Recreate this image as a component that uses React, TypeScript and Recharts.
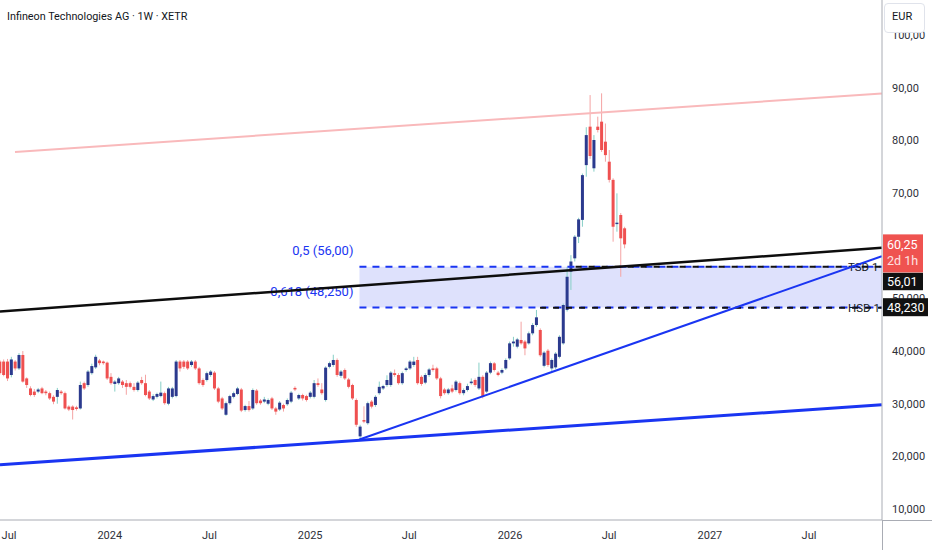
import React from 'react';
import {
  Bar,
  ComposedChart,
  ReferenceArea,
  ReferenceLine,
  XAxis,
  YAxis,
} from 'recharts';

// weekly candles, first bar week and OHLC
const FIRST_WEEK = '2023-06-15';
const WEEK_MS = 7 * 24 * 3600 * 1000;

const OPEN = [
  38.0, 38.0, 38.0, 35.45, 38.0, 36.7, 39.25, 34.8, 32.9, 32.3,
  32.3, 32.9, 32.3, 32.0, 31.3, 31.3, 32.3, 32.0, 29.45, 29.45,
  29.3, 29.1, 33.9, 33.55, 35.8, 36.9, 38.2, 38.0, 37.8, 35.1,
  33.75, 33.9, 34.2, 33.9, 33.9, 33.2, 32.6, 34.5, 33.9, 32.3,
  30.8, 31.3, 31.45, 32.0, 30.0, 31.3, 31.45, 38.0, 38.0, 38.0,
  37.35, 38.0, 36.7, 34.5, 34.5, 35.45, 35.9, 32.9, 31.0, 27.9,
  30.1, 31.3, 31.85, 32.7, 28.8, 29.55, 29.1, 32.5, 30.6, 30.4,
  30.0, 31.0, 29.1, 28.9, 29.75, 29.9, 30.4, 33.0, 31.0, 31.65,
  31.45, 31.3, 31.3, 33.9, 32.7, 30.7, 37.0, 37.35, 38.3, 35.3,
  36.4, 34.6, 33.55, 30.7, 23.8, 26.9, 26.3, 30.4, 29.75, 32.0,
  32.9, 33.55, 33.55, 35.8, 35.45, 33.9, 36.4, 36.7, 37.35, 38.3,
  35.1, 34.0, 35.45, 36.7, 36.7, 34.8, 32.7, 32.0, 32.9, 32.6,
  33.9, 32.0, 32.6, 33.9, 34.5, 32.9, 35.1, 32.3, 35.9, 37.66,
  35.9, 35.9, 36.7, 38.6, 41.46, 40.83, 42.1, 41.8, 41.46, 43.36,
  44.94, 44.0, 37.2, 40.07, 36.7, 36.9, 38.9, 41.46, 47.8, 55.07,
  57.6, 61.7, 64.9, 75.3, 82.6, 74.7, 82.6, 83.55, 79.75, 75.95,
  72.5, 64.1, 65.83, 63.3,
];
const HIGH = [
  38.3, 38.4, 38.5, 38.9, 38.3, 39.6, 40.0, 35.0, 33.3, 32.8,
  33.0, 33.2, 32.6, 32.3, 31.6, 33.0, 32.6, 32.3, 29.7, 29.7,
  29.6, 34.2, 34.2, 36.4, 37.6, 39.3, 38.5, 38.2, 38.0, 35.8,
  34.5, 35.1, 34.5, 34.5, 34.2, 33.9, 34.3, 35.1, 35.5, 32.6,
  31.8, 32.1, 34.2, 32.3, 33.2, 33.2, 38.3, 38.3, 38.3, 38.3,
  38.3, 38.3, 37.0, 34.8, 36.1, 36.4, 36.2, 33.2, 31.3, 30.4,
  31.7, 32.3, 33.2, 33.0, 29.8, 30.5, 32.9, 32.8, 30.9, 31.3,
  31.0, 31.3, 29.4, 30.5, 30.0, 31.0, 32.4, 33.3, 31.9, 31.9,
  31.7, 32.4, 34.5, 34.8, 33.9, 37.1, 38.0, 39.3, 38.6, 36.4,
  36.7, 34.9, 33.8, 31.0, 26.0, 29.5, 30.4, 30.7, 31.6, 34.2,
  33.6, 35.4, 36.2, 36.5, 35.8, 36.1, 37.0, 38.3, 38.9, 38.9,
  35.4, 35.8, 36.8, 37.4, 37.0, 35.1, 33.0, 33.0, 33.6, 34.5,
  34.2, 32.9, 33.8, 34.8, 34.8, 37.8, 35.4, 36.2, 38.0, 37.9,
  36.2, 36.7, 38.6, 41.8, 42.7, 42.5, 45.57, 42.1, 43.7, 45.3,
  47.8, 44.3, 40.0, 40.4, 38.6, 39.8, 43.0, 49.0, 56.0, 58.2,
  62.0, 65.3, 73.7, 82.5, 88.6, 81.0, 84.5, 88.93, 83.2, 78.17,
  72.8, 69.94, 66.2, 63.6,
];
const LOW = [
  35.5, 35.2, 34.3, 35.0, 36.3, 36.4, 34.0, 33.0, 31.4, 31.3,
  32.0, 31.8, 31.6, 30.7, 29.9, 30.0, 31.7, 28.9, 28.6, 27.0,
  28.7, 28.9, 32.6, 33.2, 35.5, 36.6, 37.3, 37.4, 34.5, 33.6,
  32.3, 33.6, 33.0, 31.7, 32.9, 32.3, 32.3, 33.6, 31.4, 30.7,
  30.5, 31.0, 31.2, 29.8, 29.7, 31.0, 31.2, 36.1, 36.6, 36.4,
  37.0, 36.4, 33.6, 33.2, 34.2, 35.1, 32.6, 30.1, 28.8, 27.7,
  29.8, 31.0, 31.6, 28.4, 28.5, 28.5, 28.8, 29.8, 29.8, 30.1,
  29.7, 28.8, 27.9, 28.6, 28.5, 29.6, 30.1, 32.4, 30.7, 30.6,
  30.4, 31.0, 31.0, 33.2, 31.7, 30.4, 36.7, 37.0, 35.1, 34.9,
  34.5, 32.9, 30.7, 25.6, 23.25, 26.3, 26.0, 29.1, 29.4, 31.7,
  32.6, 33.2, 33.2, 35.1, 33.6, 33.6, 36.1, 36.4, 37.0, 33.6,
  33.4, 33.7, 35.1, 36.1, 34.5, 31.0, 31.7, 31.7, 32.0, 32.3,
  31.7, 31.6, 32.3, 33.6, 33.2, 32.6, 31.0, 32.0, 35.6, 36.1,
  35.2, 35.6, 36.4, 38.3, 40.83, 40.5, 41.2, 39.2, 41.2, 43.0,
  44.6, 38.9, 36.9, 37.0, 36.2, 36.6, 38.6, 41.2, 47.5, 51.6,
  57.0, 60.5, 63.6, 73.1, 76.5, 74.06, 81.5, 77.8, 75.95, 72.0,
  60.76, 62.66, 54.1, 59.5,
];
const CLOSE = [
  35.8, 35.45, 34.8, 38.4, 36.7, 39.25, 34.2, 33.55, 31.65, 31.65,
  32.7, 32.0, 32.0, 31.0, 30.4, 32.6, 32.0, 29.1, 28.9, 28.8,
  29.0, 33.55, 32.9, 36.1, 37.15, 38.9, 37.7, 37.7, 34.8, 33.9,
  34.2, 34.8, 33.55, 33.2, 33.2, 32.6, 34.0, 33.9, 31.65, 31.0,
  31.45, 31.85, 32.1, 30.1, 32.9, 32.9, 38.0, 36.7, 37.0, 36.7,
  38.0, 36.7, 33.9, 33.55, 35.8, 36.1, 32.9, 30.4, 29.1, 30.1,
  31.45, 32.0, 32.9, 28.7, 29.55, 28.8, 32.6, 30.1, 30.1, 30.8,
  30.7, 29.1, 28.5, 30.2, 29.1, 30.7, 32.1, 32.7, 31.65, 31.0,
  30.7, 32.1, 33.9, 33.55, 32.0, 36.85, 37.7, 38.3, 35.45, 36.1,
  34.8, 33.2, 31.0, 26.0, 25.65, 26.6, 30.1, 29.45, 31.3, 33.2,
  33.35, 34.5, 35.9, 35.45, 33.9, 35.8, 36.7, 38.0, 38.0, 33.9,
  33.75, 35.45, 36.5, 36.4, 34.8, 31.45, 32.0, 32.7, 32.3, 34.2,
  32.0, 32.6, 33.35, 34.2, 33.55, 35.1, 31.3, 35.9, 37.7, 36.4,
  35.45, 36.4, 38.3, 41.46, 41.8, 42.2, 41.46, 40.5, 43.36, 44.94,
  46.4, 39.2, 39.7, 37.35, 38.3, 39.5, 42.7, 48.74, 54.1, 57.0,
  61.7, 65.0, 73.4, 81.0, 77.03, 80.07, 81.97, 78.17, 77.2, 72.5,
  63.6, 64.37, 61.4, 60.25,
];

const TICK_DATES = [
  '2023-07-01', '2024-01-01', '2024-07-01', '2025-01-01', '2025-07-01',
  '2026-01-01', '2026-07-01', '2027-01-01', '2027-07-01',
];
const TICK_LABELS = ['Jul', '2024', 'Jul', '2025', 'Jul', '2026', 'Jul', '2027', 'Jul'];
// 60 sits fully under the last-price tag in the original, so it is left out
const PRICE_TICKS = [10, 20, 30, 40, 50, 70, 80, 90, 100];
const PRICE_LABELS = [
  '10,000', '20,000', '30,000', '40,000', '50,000',
  '70,00', '80,00', '90,00', '100,00',
];
const X_RANGE = ['2023-06-14T13:00:00Z', '2027-11-11T08:00:00Z'];
const Y_RANGE = [7.92, 106.65];

// drawings on the chart: [date, price] end points
const PINK_LINE = [['2023-07-12', 77.8], ['2027-11-11', 88.9]];
const BLACK_LINE = [['2023-06-14T13:00:00Z', 47.5], ['2027-11-11', 59.6]];
const BLUE_LONG = [['2023-06-14T13:00:00Z', 18.4], ['2027-11-11', 29.8]];
const BLUE_SHORT = [['2025-04-01', 23.2], ['2027-11-11', 58.0]];
const FIB_START = '2025-04-01';
const FIB_LEVELS = [
  { value: 56.0, text: '0,5 (56,00)' },
  { value: 48.25, text: '0,618 (48,250)' },
];
const SD_LINES = [
  { name: 'TSD 1', value: 56.01, from: '2026-04-18' },
  { name: 'HSD 1', value: 48.23, from: '2026-02-12' },
];
const LAST_PRICE = 60.25;

const FONT = 'Roboto, "Noto Sans", sans-serif';
const BLUE = '#1a35f2';
const UP_BODY = '#2b3a8e';
const UP_WICK = '#86cfc6';
const DOWN_BODY = '#ef5050';
const DOWN_WICK = '#f4a3a3';
const AXIS = '#a9acb4';

const ts = (d: string) => Date.parse(d.length === 10 ? d + 'T00:00:00Z' : d);
const t0 = ts(FIRST_WEEK);
const candles = OPEN.map((o, i) => ({
  t: t0 + i * WEEK_MS,
  o,
  h: HIGH[i],
  l: LOW[i],
  c: CLOSE[i],
}));
const seg = (p: (string | number)[][]) =>
  p.map(([d, v]) => ({ x: ts(d as string), y: v as number }));
const xDomain = [ts(X_RANGE[0]), ts(X_RANGE[1])];

const Candle = (props: any) => {
  const { x, y, width, height, payload } = props;
  if (!payload) return null;
  const { o, h, l, c } = payload;
  const top = Math.min(y, y + height);
  const span = Math.abs(height);
  const k = span / (h - l);
  const cx = x + width / 2;
  const up = c >= o;
  const bodyTop = top + (h - Math.max(o, c)) * k;
  const bodyH = Math.max(1, Math.abs(c - o) * k);
  return (
    <g>
      <line x1={cx} x2={cx} y1={top} y2={top + span} stroke={up ? UP_WICK : DOWN_WICK} strokeWidth={1} />
      <rect x={cx - 1.5} y={bodyTop} width={3} height={bodyH} fill={up ? UP_BODY : DOWN_BODY} />
    </g>
  );
};

const FibLabel = ({ viewBox, text }: any) => (
  <text
    x={viewBox.x - 6}
    y={viewBox.y - 16}
    textAnchor="end"
    dominantBaseline="central"
    fill={BLUE}
    fontSize={13}
    fontFamily={FONT}
  >
    {text}
  </text>
);

const SdLabel = ({ viewBox, text }: any) => (
  <text
    x={viewBox.x + viewBox.width - 34}
    y={viewBox.y}
    dominantBaseline="central"
    fill="#131722"
    fontSize={11.5}
    fontFamily={FONT}
  >
    {text}
  </text>
);

const PriceTag = ({ viewBox, lines, bg, top, height, width, textDy = 0 }: any) => {
  const x = viewBox.x + viewBox.width + 1;
  const y = viewBox.y;
  return (
    <g>
      <rect x={x} y={y + top} width={width} height={height} fill={bg} />
      {lines.map((t: string, i: number) => (
        <text
          key={i}
          x={x + 4}
          y={y + textDy + i * 16}
          dominantBaseline="central"
          fill={i === 0 ? '#ffffff' : '#fde2e2'}
          fontSize={12.5}
          fontFamily={FONT}
        >
          {t}
        </text>
      ))}
    </g>
  );
};

export default function App() {
  const tickTs = TICK_DATES.map(ts);
  return (
    <div
      style={{
        position: 'fixed',
        left: 0,
        top: 0,
        width: 932,
        height: 550,
        background: '#fff',
        overflow: 'hidden',
        fontFamily: FONT,
      }}
    >
      <ComposedChart
        width={932}
        height={550}
        data={candles}
        margin={{ top: 0, right: 0, bottom: 0, left: 0 }}
      >
        <XAxis
          dataKey="t"
          type="number"
          domain={xDomain}
          allowDataOverflow
          ticks={tickTs}
          interval={0}
          tickFormatter={(v: number) => TICK_LABELS[tickTs.indexOf(v)] ?? ''}
          height={30}
          tickLine={false}
          tickMargin={5}
          axisLine={{ stroke: AXIS }}
          tick={{ fill: '#2e3038', fontSize: 11, fontFamily: FONT }}
        />
        <YAxis
          orientation="right"
          type="number"
          width={50}
          domain={Y_RANGE}
          allowDataOverflow
          ticks={PRICE_TICKS}
          interval={0}
          tickFormatter={(v: number) => PRICE_LABELS[PRICE_TICKS.indexOf(v)] ?? ''}
          tickLine={false}
          tickMargin={4}
          axisLine={{ stroke: AXIS }}
          tick={{ fill: '#2e3038', fontSize: 11, fontFamily: FONT, textAnchor: 'start' }}
        />
        <ReferenceArea
          x1={ts(FIB_START)}
          x2={ts(X_RANGE[1])}
          y1={FIB_LEVELS[1].value}
          y2={FIB_LEVELS[0].value}
          fill="#3a4bf0"
          fillOpacity={0.17}
          stroke="none"
          ifOverflow="hidden"
        />
        {FIB_LEVELS.map((f) => (
          <ReferenceLine
            key={f.text}
            segment={[
              { x: ts(FIB_START), y: f.value },
              { x: ts(X_RANGE[1]), y: f.value },
            ]}
            stroke={BLUE}
            strokeWidth={2}
            strokeDasharray="7 6"
            ifOverflow="hidden"
            label={<FibLabel text={f.text} />}
          />
        ))}
        {SD_LINES.map((s) => (
          <ReferenceLine
            key={s.name}
            segment={[
              { x: ts(s.from), y: s.value },
              { x: ts(X_RANGE[1]), y: s.value },
            ]}
            stroke="#111"
            strokeWidth={2}
            strokeDasharray="6 7"
            strokeDashoffset={-7}
            ifOverflow="hidden"
            label={<SdLabel text={s.name} />}
          />
        ))}
        <ReferenceLine segment={seg(PINK_LINE)} stroke="#f9b9bb" strokeWidth={2} ifOverflow="hidden" />
        <ReferenceLine segment={seg(BLUE_LONG)} stroke={BLUE} strokeWidth={3} ifOverflow="hidden" />
        <ReferenceLine segment={seg(BLUE_SHORT)} stroke={BLUE} strokeWidth={2} ifOverflow="hidden" />
        <Bar
          dataKey={(d: any) => [d.l, d.h]}
          barSize={3}
          isAnimationActive={false}
          shape={(p: any) => <Candle {...p} />}
        />
        <ReferenceLine segment={seg(BLACK_LINE)} stroke="#0d0d0d" strokeWidth={2.5} ifOverflow="hidden" />
      </ComposedChart>

      {/* price scale tags, drawn in a second chart so they sit above the axis labels */}
      <div style={{ position: 'absolute', left: 0, top: 0, pointerEvents: 'none' }}>
        <ComposedChart
          width={932}
          height={550}
          data={candles}
          margin={{ top: 0, right: 50, bottom: 30, left: 0 }}
        >
          <XAxis dataKey="t" type="number" domain={xDomain} allowDataOverflow hide />
          <YAxis type="number" domain={Y_RANGE} allowDataOverflow hide />
          <ReferenceLine
            y={SD_LINES[1].value}
            stroke="none"
            label={<PriceTag lines={['48,230']} bg="#111" top={-9.5} height={18} width={45} />}
          />
          <ReferenceLine
            y={SD_LINES[0].value}
            stroke="none"
            label={<PriceTag lines={['56,01']} bg="#111" top={6} height={17.5} width={40} textDy={15} />}
          />
          <ReferenceLine
            y={LAST_PRICE}
            stroke="none"
            label={<PriceTag lines={['60,25', '2d 1h']} bg="#ef5350" top={-10} height={38} width={40} textDy={0.5} />}
          />
        </ComposedChart>
      </div>

      <div style={{ position: 'absolute', left: 882, top: 520, width: 1, height: 30, background: AXIS }} />
      <div style={{ position: 'absolute', left: 882, top: 520, width: 50, height: 1, background: AXIS }} />
      <div
        style={{
          position: 'absolute',
          left: 7,
          top: 10,
          fontSize: 10.8,
          lineHeight: '14px',
          color: '#131722',
          whiteSpace: 'nowrap',
        }}
      >
        Infineon Technologies AG · 1W · XETR
      </div>
      <div
        style={{
          position: 'absolute',
          left: 884,
          top: 3,
          width: 41,
          height: 30,
          boxSizing: 'border-box',
          border: '1px solid #e0e3eb',
          borderRadius: 4,
          background: '#fff',
          fontSize: 11,
          lineHeight: '26px',
          paddingLeft: 7,
          color: '#131722',
        }}
      >
        EUR
      </div>
    </div>
  );
}
